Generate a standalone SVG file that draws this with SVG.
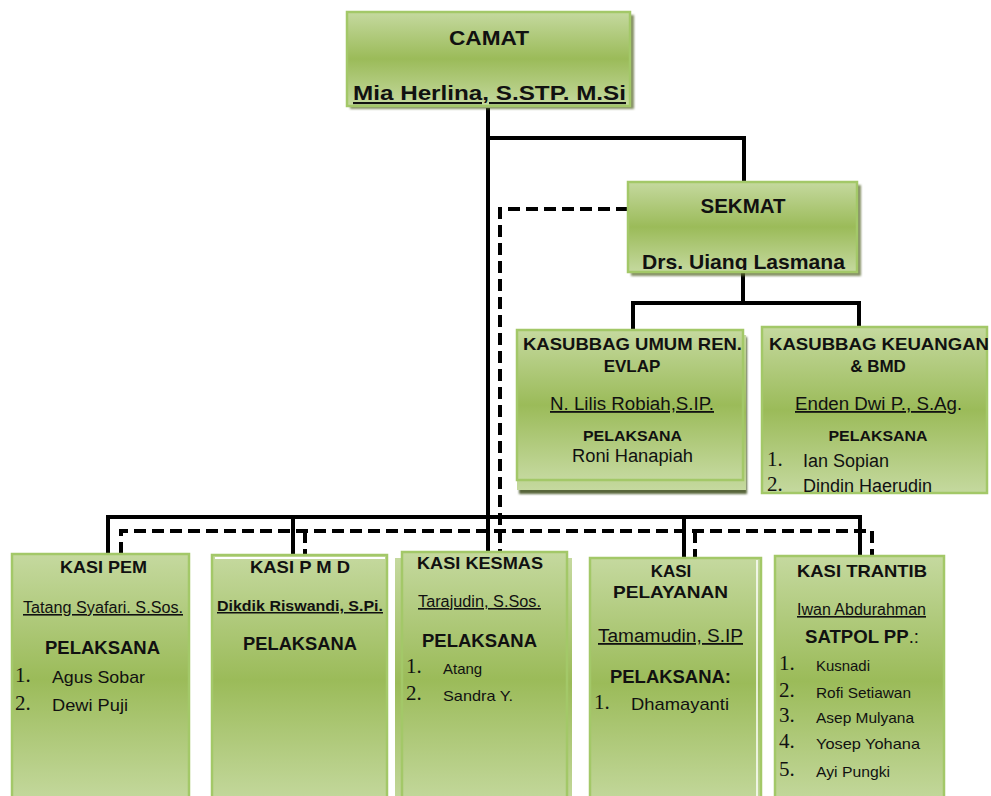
<svg xmlns="http://www.w3.org/2000/svg" width="991" height="796" viewBox="0 0 991 796">
  <style>
    .box{fill:url(#olive);stroke:#a3c868;stroke-width:2.5}
    .back{fill:url(#olive);stroke:none}
    .shade{fill:#5b6a33;opacity:0.75}
    .t{font-family:"Liberation Sans",Arial,sans-serif;fill:#111}
    .b{font-weight:bold}
    .c{text-anchor:middle}
    .u{text-decoration:underline}
    .n{font-family:"Liberation Serif","Times New Roman",serif;fill:#111;font-size:21px}
    .solid{stroke:#000;stroke-width:4;fill:none;stroke-linejoin:miter}
    .dash{stroke:#000;stroke-width:4;fill:none;stroke-dasharray:12 6}
  </style>
  <defs>
    <linearGradient id="olive" x1="0" y1="0" x2="0" y2="1">
      <stop offset="0" stop-color="#c5d99f"/>
      <stop offset="0.5" stop-color="#9bbb59"/>
      <stop offset="1" stop-color="#c5d99f"/>
    </linearGradient>
    <filter id="soft" x="-5%" y="-5%" width="110%" height="110%">
      <feGaussianBlur stdDeviation="1"/>
    </filter>
    <clipPath id="clipSekmat"><rect x="628" y="182" width="230" height="88"/></clipPath>
    <clipPath id="clipKeu"><rect x="762" y="327" width="226" height="165"/></clipPath>
  </defs>

  <rect width="991" height="796" fill="#fff"/>

  <!-- connectors -->
  <g id="connectors">
    <!-- camat to sekmat and down the trunk -->
    <path class="solid" d="M488 108 V552"/>
    <path class="solid" d="M488 138 H744 V182"/>
    <!-- sekmat to kasubbag -->
    <path class="solid" d="M743 273 V303"/>
    <path class="solid" d="M633 330 V303 H859 V327"/>
    <!-- kasi bus -->
    <path class="solid" d="M108 554 V517 H860 V556"/>
    <path class="solid" d="M293 517 V557"/>
    <path class="solid" d="M684 517 V558"/>
    <!-- coordination lines from sekmat -->
    <path class="dash" d="M628 209 H500 V552"/>
    <path class="dash" d="M121 554 V531 H872 V556"/>
    <path class="dash" d="M305 531 V557"/>
    <path class="dash" d="M695 531 V558"/>
  </g>

  <!-- CAMAT -->
  <g id="camat">
    <rect class="shade" x="350" y="15" width="284" height="94" filter="url(#soft)"/>
    <rect class="box" x="347" y="12" width="283" height="94"/>
    <text class="t b c" x="489" y="45" font-size="20" textLength="80" lengthAdjust="spacingAndGlyphs">CAMAT</text>
    <text class="t b c u" x="489.5" y="100" font-size="21" textLength="273" lengthAdjust="spacingAndGlyphs">Mia Herlina, S.STP. M.Si</text>
  </g>

  <!-- SEKMAT -->
  <g id="sekmat">
    <rect class="shade" x="631" y="185" width="230" height="91" filter="url(#soft)"/>
    <rect class="box" x="628" y="182" width="229" height="90"/>
    <text class="t b c" x="743" y="213" font-size="20" textLength="85" lengthAdjust="spacingAndGlyphs">SEKMAT</text>
    <g clip-path="url(#clipSekmat)">
      <text class="t b c" x="743.5" y="269" font-size="21" textLength="203" lengthAdjust="spacingAndGlyphs">Drs. Uiang Lasmana</text>
    </g>
  </g>

  <!-- KASUBBAG UMUM -->
  <g id="kasubbag-umum">
    <rect x="519" y="337" width="228" height="157" fill="#59663a" filter="url(#soft)"/>
    <rect class="back" x="517" y="335" width="229" height="155"/>
    <rect class="box" x="517" y="330" width="226" height="150"/>
    <text class="t b c" x="632.5" y="350" font-size="17" textLength="219" lengthAdjust="spacingAndGlyphs">KASUBBAG UMUM REN.</text>
    <text class="t b c" x="632" y="372" font-size="17">EVLAP</text>
    <text class="t c u" x="632" y="410" font-size="18" textLength="164" lengthAdjust="spacingAndGlyphs">N. Lilis Robiah,S.IP.</text>
    <text class="t b c" x="632.5" y="441" font-size="15" textLength="99" lengthAdjust="spacingAndGlyphs">PELAKSANA</text>
    <text class="t c" x="632.5" y="462" font-size="18" textLength="121" lengthAdjust="spacingAndGlyphs">Roni Hanapiah</text>
  </g>

  <!-- KASUBBAG KEUANGAN -->
  <g id="kasubbag-keuangan">
    <rect class="box" x="762" y="327" width="225" height="166"/>
    <g clip-path="url(#clipKeu)">
      <text class="t b" x="769" y="350" font-size="17" textLength="220" lengthAdjust="spacingAndGlyphs">KASUBBAG KEUANGAN</text>
      <text class="t b c" x="878" y="372" font-size="17">&amp; BMD</text>
      <text class="t" x="795" y="410" font-size="18"><tspan class="u" textLength="162" lengthAdjust="spacingAndGlyphs">Enden Dwi P., S.Ag</tspan>.</text>
      <text class="t b c" x="878" y="441" font-size="15" textLength="99" lengthAdjust="spacingAndGlyphs">PELAKSANA</text>
      <text class="n" x="767" y="466">1.</text>
      <text class="t" x="803" y="467" font-size="18">Ian Sopian</text>
      <text class="n" x="767" y="491">2.</text>
      <text class="t" x="803" y="492" font-size="18">Dindin Haerudin</text>
    </g>
  </g>

  <!-- KASI PEM -->
  <g id="kasi-pem">
    <rect class="box" x="12" y="554" width="177" height="250"/>
    <text class="t b c" x="103.5" y="573" font-size="17" textLength="87" lengthAdjust="spacingAndGlyphs">KASI PEM</text>
    <text class="t c u" x="103" y="613" font-size="16" textLength="160" lengthAdjust="spacingAndGlyphs">Tatang Syafari. S.Sos.</text>
    <text class="t b c" x="102.5" y="654" font-size="18" textLength="115" lengthAdjust="spacingAndGlyphs">PELAKSANA</text>
    <text class="n" x="15" y="682">1.</text>
    <text class="t" x="52" y="683" font-size="17" textLength="93" lengthAdjust="spacingAndGlyphs">Agus Sobar</text>
    <text class="n" x="15" y="710">2.</text>
    <text class="t" x="52" y="711" font-size="17" textLength="76" lengthAdjust="spacingAndGlyphs">Dewi Puji</text>
  </g>

  <!-- KASI PMD -->
  <g id="kasi-pmd">
    <rect class="box" x="212" y="555" width="175" height="250"/>
    <line x1="215" y1="558" x2="385" y2="558" stroke="#fff" stroke-width="2"/>
    <text class="t b c" x="300" y="573" font-size="17" textLength="100" lengthAdjust="spacingAndGlyphs">KASI P M D</text>
    <text class="t b c u" x="300" y="611" font-size="15" textLength="166" lengthAdjust="spacingAndGlyphs">Dikdik Riswandi, S.Pi.</text>
    <text class="t b c" x="300" y="650" font-size="18" textLength="114" lengthAdjust="spacingAndGlyphs">PELAKSANA</text>
  </g>

  <!-- KASI KESMAS -->
  <g id="kasi-kesmas">
    <rect class="back" x="395" y="558" width="177" height="250"/>
    <rect class="box" x="402" y="552" width="165" height="255"/>
    <text class="t b c" x="480" y="569" font-size="17" textLength="126" lengthAdjust="spacingAndGlyphs">KASI KESMAS</text>
    <text class="t c u" x="479.5" y="607" font-size="16" textLength="123" lengthAdjust="spacingAndGlyphs">Tarajudin, S.Sos.</text>
    <text class="t b c" x="479.5" y="647" font-size="18" textLength="115" lengthAdjust="spacingAndGlyphs">PELAKSANA</text>
    <text class="n" x="406" y="673">1.</text>
    <text class="t" x="443" y="674" font-size="15">Atang</text>
    <text class="n" x="406" y="700">2.</text>
    <text class="t" x="443" y="701" font-size="15" textLength="70" lengthAdjust="spacingAndGlyphs">Sandra Y.</text>
  </g>

  <!-- KASI PELAYANAN -->
  <g id="kasi-pelayanan">
    <rect class="box" x="590" y="558" width="171" height="250"/>
    <line x1="757" y1="560" x2="757" y2="796" stroke="#fff" stroke-width="1.5"/>
    <text class="t b c" x="671" y="577" font-size="17">KASI</text>
    <text class="t b c" x="670.5" y="598" font-size="17" textLength="115" lengthAdjust="spacingAndGlyphs">PELAYANAN</text>
    <text class="t c u" x="670.5" y="642" font-size="18" textLength="145" lengthAdjust="spacingAndGlyphs">Tamamudin, S.IP</text>
    <text class="t b c" x="670.5" y="683" font-size="18" textLength="121" lengthAdjust="spacingAndGlyphs">PELAKSANA:</text>
    <text class="n" x="594" y="709">1.</text>
    <text class="t" x="631" y="710" font-size="17" textLength="98" lengthAdjust="spacingAndGlyphs">Dhamayanti</text>
  </g>

  <!-- KASI TRANTIB -->
  <g id="kasi-trantib">
    <rect class="box" x="775" y="556" width="169" height="250"/>
    <text class="t b c" x="862" y="577" font-size="17" textLength="130" lengthAdjust="spacingAndGlyphs">KASI TRANTIB</text>
    <text class="t c u" x="861.5" y="615" font-size="16" textLength="129" lengthAdjust="spacingAndGlyphs">Iwan Abdurahman</text>
    <text class="t c" x="862" y="643" font-size="18" textLength="114" lengthAdjust="spacingAndGlyphs"><tspan class="b">SATPOL PP</tspan>.:</text>
    <text class="n" x="779" y="670">1.</text>
    <text class="t" x="816" y="671" font-size="15" textLength="54" lengthAdjust="spacingAndGlyphs">Kusnadi</text>
    <text class="n" x="779" y="697">2.</text>
    <text class="t" x="816" y="698" font-size="15" textLength="95" lengthAdjust="spacingAndGlyphs">Rofi Setiawan</text>
    <text class="n" x="779" y="722">3.</text>
    <text class="t" x="816" y="723" font-size="15" textLength="98" lengthAdjust="spacingAndGlyphs">Asep Mulyana</text>
    <text class="n" x="779" y="748">4.</text>
    <text class="t" x="816" y="749" font-size="15" textLength="104" lengthAdjust="spacingAndGlyphs">Yosep Yohana</text>
    <text class="n" x="779" y="776">5.</text>
    <text class="t" x="816" y="777" font-size="15" textLength="74" lengthAdjust="spacingAndGlyphs">Ayi Pungki</text>
  </g>
</svg>
